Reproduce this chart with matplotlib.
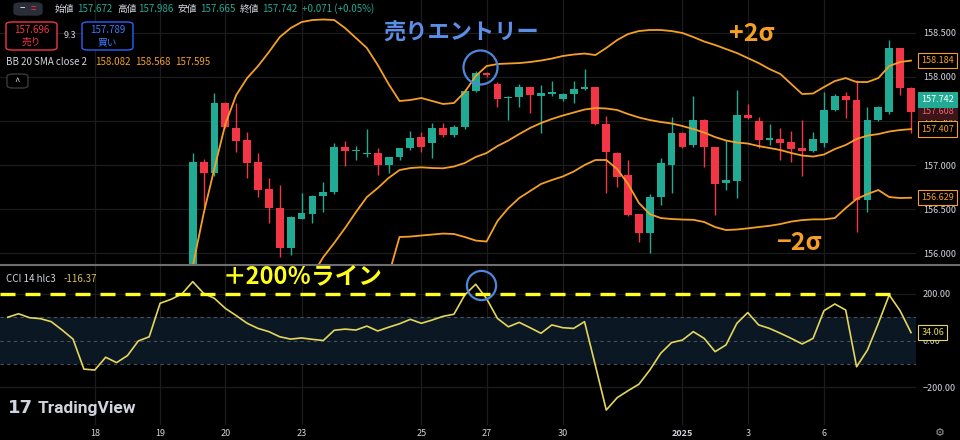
import numpy as np
import matplotlib.pyplot as plt
from matplotlib.patches import FancyBboxPatch
from matplotlib.lines import Line2D

plt.rcParams['font.family'] = ['Noto Sans CJK JP', 'DejaVu Sans']

GREEN = '#22ab94'
RED = '#f23645'
ORANGE = '#f5a025'
CCI_COL = '#e3d65c'
TXT = '#d1d4dc'
GRID = '#1c1c1c'
BLUE = '#4f86db'

# USDJPY 4h bars, index 0 = left edge of the visible window
# earlier bars sit below the visible price range, so candles start at bar 17
first_bar = 17
opens = [155.300, 157.037, 156.906, 157.700, 157.416, 157.283, 157.037, 156.724, 156.516, 156.062,
         156.388, 156.444, 156.649, 156.690, 157.207, 157.160, 157.130, 157.133, 157.000, 157.087,
         157.189, 157.314, 157.253, 157.416, 157.340, 157.427, 157.842, 158.046, 157.915, 157.760,
         157.770, 157.881, 157.785, 157.810, 157.750, 157.810, 157.865, 157.880, 157.461, 157.139,
         156.887, 156.444, 156.226, 156.634, 157.000, 157.366, 157.227, 157.510, 157.207, 156.793,
         156.822, 157.567, 157.502, 157.283, 157.295, 157.257, 157.189, 157.162, 157.246, 157.624,
         157.782, 157.737, 156.603, 157.510, 157.600, 158.323, 157.870]
highs = [157.139, 157.065, 157.813, 157.720, 157.706, 157.378, 157.133, 156.849, 156.773, 156.420,
         156.686, 156.655, 156.811, 157.253, 157.272, 157.215, 157.405, 157.189, 157.095, 157.195,
         157.389, 157.378, 157.473, 157.480, 157.450, 157.860, 158.070, 158.060, 157.944, 157.780,
         157.918, 157.890, 157.907, 157.956, 157.820, 157.956, 158.085, 157.890, 157.556, 157.150,
         157.057, 156.450, 156.670, 157.076, 157.548, 157.380, 157.782, 157.520, 157.210, 157.283,
         157.850, 157.688, 157.548, 157.465, 157.416, 157.389, 157.510, 157.378, 157.831, 157.800,
         157.831, 157.964, 157.661, 157.670, 158.417, 158.330, 157.880]
lows = [155.200, 156.527, 156.880, 157.420, 157.151, 156.849, 156.641, 156.339, 155.954, 155.980,
        156.384, 156.339, 156.470, 156.670, 156.989, 157.057, 157.094, 156.887, 156.913, 157.060,
        157.170, 157.151, 157.076, 157.321, 157.320, 157.410, 157.830, 158.000, 157.661, 157.510,
        157.661, 157.586, 157.359, 157.780, 157.730, 157.706, 157.850, 157.450, 156.679, 156.754,
        156.420, 156.130, 156.006, 156.547, 156.679, 157.190, 157.201, 156.981, 156.433, 156.717,
        156.622, 157.520, 157.189, 157.227, 157.057, 157.037, 156.875, 157.150, 157.207, 157.610,
        157.529, 156.244, 156.471, 157.500, 157.580, 157.794, 157.359]
closes = [157.037, 156.906, 157.700, 157.434, 157.276, 157.026, 156.717, 156.516, 156.062, 156.414,
          156.452, 156.649, 156.690, 157.207, 157.159, 157.172, 157.140, 157.000, 157.087, 157.189,
          157.303, 157.207, 157.416, 157.340, 157.434, 157.842, 158.046, 158.020, 157.745, 157.775,
          157.881, 157.794, 157.815, 157.830, 157.810, 157.858, 157.885, 157.461, 157.151, 156.861,
          156.433, 156.226, 156.634, 157.019, 157.366, 157.201, 157.510, 157.207, 156.785, 156.830,
          157.567, 157.536, 157.283, 157.303, 157.253, 157.178, 157.162, 157.291, 157.624, 157.782,
          157.737, 156.603, 157.510, 157.654, 158.323, 157.870, 157.604]

# Bollinger bands (20, 2) - each starts where it enters the visible range
bb_upper_start = 17
bb_upper = [155.850, 156.450, 156.966, 157.465, 157.794, 157.986, 158.122, 158.281, 158.451, 158.553,
            158.621, 158.644, 158.650, 158.644, 158.553, 158.440, 158.327, 158.134, 157.918, 157.726,
            157.737, 157.760, 157.726, 157.692, 157.703, 157.828, 158.009, 158.122, 158.145, 158.151,
            158.156, 158.168, 158.185, 158.207, 158.236, 158.253, 158.264, 158.247, 158.327, 158.417,
            158.485, 158.519, 158.531, 158.531, 158.519, 158.497, 158.451, 158.400, 158.361, 158.315,
            158.270, 158.213, 158.156, 158.088, 158.032, 157.918, 157.805, 157.811, 157.884, 157.952,
            157.986, 157.941, 157.941, 157.986, 158.122, 158.168, 158.184]
bb_mid_start = 28
bb_mid = [155.753, 155.957, 156.116, 156.286, 156.467, 156.637, 156.739, 156.853, 156.943, 156.966,
          156.974, 156.966, 156.963, 156.983, 157.023, 157.091, 157.136, 157.215, 157.278, 157.351,
          157.420, 157.476, 157.522, 157.561, 157.595, 157.629, 157.646, 157.641, 157.624, 157.578,
          157.539, 157.510, 157.488, 157.471, 157.442, 157.408, 157.368, 157.317, 157.278, 157.255,
          157.244, 157.215, 157.193, 157.170, 157.136, 157.108, 157.096, 157.119, 157.181, 157.227,
          157.295, 157.334, 157.351, 157.380, 157.397, 157.407]
bb_lower_start = 35
bb_lower = [155.750, 156.184, 156.189, 156.201, 156.212, 156.223, 156.218, 156.184, 156.144, 156.133,
            156.365, 156.512, 156.626, 156.705, 156.785, 156.830, 156.870, 156.926, 157.000, 157.057,
            157.057, 156.955, 156.785, 156.569, 156.444, 156.399, 156.388, 156.382, 156.379, 156.354,
            156.297, 156.263, 156.269, 156.282, 156.297, 156.311, 156.331, 156.359, 156.376, 156.384,
            156.384, 156.399, 156.512, 156.615, 156.671, 156.717, 156.637, 156.626, 156.629]

# CCI 14 hlc3, one value per bar from the left edge
cci = [100, 115, 98, 94, 81, 45, 6, -123, -127, -72,
       -95, -65, -2, 16, 160, 177, 200, 253, 203, 181,
       138, 107, 74, 52, 38, 16, 6, 11, 5, 0,
       44, 49, 45, 62, 41, 57, 72, 91, 74, 88,
       104, 113, 196, 242, 180, 95, 59, 78, 55, 31,
       67, 55, 52, 81, -108, -299, -246, -216, -188, -127,
       -55, -9, 2, 38, 9, -48, -19, 74, 120, 67,
       52, 31, 9, -15, 9, 128, 157, 131, -113, -41,
       74, 196, 128, 34.06]
cci_level = 200

date_pos = [8, 14, 20, 27, 38, 44, 51, 62, 68, 75]
date_labels = ['18', '19', '20', '23', '25', '27', '30', '2025', '3', '6']
price_ticks = [156.0, 156.5, 157.0, 157.5, 158.0, 158.5]
cci_ticks = [200, 0, -200]
cci_tick_labels = ['200.00', '0.00', '−200.00']

W, H = 960, 440
fig = plt.figure(figsize=(W / 100, H / 100), dpi=100, facecolor='black')


def rect(x0, y0, x1, y1):
    return [x0 / W, 1 - y1 / H, (x1 - x0) / W, (y1 - y0) / H]


def ftext(x, y, s, **kw):
    kw.setdefault('va', 'center')
    kw.setdefault('color', TXT)
    return fig.text(x / W, 1 - y / H, s, **kw)


def fbox(x0, y0, x1, y1, ec, fc='black', lw=1.0):
    fig.add_artist(FancyBboxPatch((x0 / W, 1 - y1 / H), (x1 - x0) / W, (y1 - y0) / H,
                                  boxstyle='round,pad=0,rounding_size=0.006',
                                  transform=fig.transFigure, ec=ec, fc=fc, lw=lw))


ax1 = fig.add_axes(rect(0, 0, 916, 264))
ax2 = fig.add_axes(rect(0, 266, 916, 425), sharex=ax1)
for ax in (ax1, ax2):
    ax.set_facecolor('black')
    for s in ax.spines.values():
        s.set_visible(False)
    ax.yaxis.tick_right()
    ax.tick_params(length=0, labelsize=6.5, labelcolor=TXT, pad=5)
    for p in date_pos:
        ax.axvline(p, color=GRID, lw=0.9, zorder=0)

ax1.set_xlim(-0.71, 83.46)
ax1.set_ylim(155.878, 158.871)
ax1.tick_params(labelbottom=False)

# candles
o, h, l, c = map(np.array, (opens, highs, lows, closes))
idx = np.arange(first_bar, first_bar + len(o))
cols = np.where(c >= o, GREEN, RED)
ax1.vlines(idx, l, h, colors=cols, lw=1, zorder=3)
ax1.bar(idx, np.maximum(np.abs(c - o), 0.012), bottom=np.minimum(o, c), width=0.72,
        color=cols, lw=0, zorder=4)

for start, vals in ((bb_upper_start, bb_upper), (bb_mid_start, bb_mid), (bb_lower_start, bb_lower)):
    ax1.plot(np.arange(start, start + len(vals)), vals, color=ORANGE, lw=1.3, zorder=5)

ax1.set_yticks(price_ticks)
ax1.set_yticklabels([f'{v:.3f}' for v in price_ticks])
for v in price_ticks:
    ax1.axhline(v, color=GRID, lw=0.9, zorder=0)


def tag(ax, v, s, fc, ec, tc):
    ax.annotate(s, xy=(1, v), xycoords=('axes fraction', 'data'), xytext=(4, 0),
                textcoords='offset points', va='center', ha='left', fontsize=6.5, color=tc,
                bbox=dict(boxstyle='square,pad=0.35', fc=fc, ec=ec, lw=0.8),
                annotation_clip=False, zorder=10)


tag(ax1, bb_upper[-1], f'{bb_upper[-1]:.3f}', 'black', ORANGE, ORANGE)
tag(ax1, 157.608, '157.608', '#3b1519', '#3b1519', '#e8646b')
tag(ax1, 157.742, '157.742', GREEN, GREEN, 'white')
tag(ax1, bb_mid[-1], f'{bb_mid[-1]:.3f}', 'black', ORANGE, ORANGE)
tag(ax1, bb_lower[-1], f'{bb_lower[-1]:.3f}', 'black', ORANGE, ORANGE)

# entry circle on price
ax1.plot(43.4, 158.115, 'o', ms=24.5, mfc='none', mec=BLUE, mew=1.6, zorder=7)

# CCI panel
ax2.set_ylim(-363.4, 320.4)
ax2.axhspan(-100, 100, color='#0c1724', lw=0, zorder=0)
for v in (100, 0, -100):
    ax2.axhline(v, color='#4a505c', lw=0.8, ls=(0, (3, 3)), zorder=1)
for v in (200, -200):
    ax2.axhline(v, color=GRID, lw=0.9, zorder=0)
ax2.plot(np.arange(len(cci)), cci, color=CCI_COL, lw=1.2, zorder=4)
ax2.plot([0, 0.975], [cci_level, cci_level], transform=ax2.get_yaxis_transform(),
         color='#ffff24', lw=2.4, ls=(0, (4.5, 3)), zorder=6)
ax2.plot(43.5, 239, 'o', ms=21, mfc='none', mec=BLUE, mew=1.6, zorder=7)
ax2.set_yticks(cci_ticks)
ax2.set_yticklabels(cci_tick_labels)
tag(ax2, cci[-1], f'{cci[-1]:.2f}', 'black', CCI_COL, CCI_COL)

ax2.set_xticks(date_pos)
ax2.set_xticklabels(date_labels)
ax2.tick_params(axis='x', pad=3)
ax2.get_xticklabels()[date_labels.index('2025')].set_fontweight('bold')

# separator between panes
fig.add_artist(Line2D([0, 1], [1 - 265 / H] * 2, color='#6e6e6e', lw=1.5))

# header
fbox(14, 3, 42, 15, '#2a2e39', '#2a2e39')
ftext(22, 8.5, '−', ha='center', fontsize=7, color='white')
ftext(33, 8.5, '=', ha='center', fontsize=7, color=RED)
for x, s, col in ((55, '始値', TXT), (77, '157.672', GREEN), (117, '高値', TXT), (138, '157.986', GREEN),
                  (178, '安値', TXT), (200, '157.665', GREEN), (240, '終値', TXT), (262, '157.742', GREEN),
                  (302, '+0.071 (+0.05%)', GREEN)):
    ftext(x, 9, s, fontsize=7, color=col)

fbox(6, 22, 57, 50, RED)
ftext(31.5, 30, '157.696', ha='center', fontsize=7, color=RED)
ftext(31.5, 42, '売り', ha='center', fontsize=7, color=RED)
ftext(64, 36, '9.3', fontsize=6.5)
fbox(82, 22, 133, 50, '#2962ff')
ftext(107.5, 30, '157.789', ha='center', fontsize=7, color='#3d7bff')
ftext(107.5, 42, '買い', ha='center', fontsize=7, color='#3d7bff')

ftext(6, 62, 'BB 20 SMA close 2', fontsize=7)
for x, s in ((95, '158.082'), (135, '158.568'), (175, '157.595')):
    ftext(x, 62, s, fontsize=7, color=ORANGE)
fbox(7, 74, 28, 88, '#3a3a3a')
ftext(17.5, 82, '^', ha='center', fontsize=7)

ftext(6, 279, 'CCI 14 hlc3', fontsize=7)
ftext(64, 279, '-116.37', fontsize=7, color='#d9c25a')

# annotations
ftext(461, 33, '売りエントリー', ha='center', fontsize=16, color='#5b8ee6', fontweight='bold')
ftext(303, 276, '＋200％ライン', ha='center', fontsize=17, color='#ffff1a', fontweight='bold')
ftext(752, 34, '+2σ', ha='center', fontsize=18, color=ORANGE, fontweight='bold')
ftext(799, 243, '−2σ', ha='center', fontsize=18, color=ORANGE, fontweight='bold')

# logo and settings icon
ftext(8, 408, '17', fontsize=13, fontweight='heavy', family='DejaVu Sans')
ftext(38, 408, 'TradingView', fontsize=12.5, fontweight='bold', family='Roboto')
ftext(940, 433, '⚙', ha='center', fontsize=8, family='DejaVu Sans', color='#9598a1')

fig.savefig('out.png', dpi=100, facecolor='black')
